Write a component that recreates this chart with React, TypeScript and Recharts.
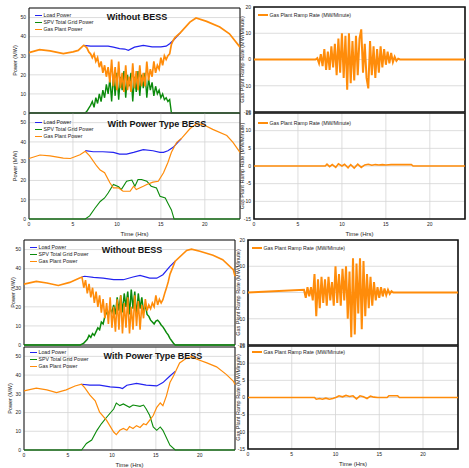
import { CartesianGrid, Legend, Line, LineChart, ReferenceArea, XAxis, YAxis } from "recharts";

const FONT = "'Liberation Sans', Arial, Helvetica, sans-serif";
const BLUE = "#2323f0";
const GREEN = "#0b8a0b";
const ORANGE = "#ff8c0a";

const hourTicks = [0, 5, 10, 15, 20];
const powerTicks = [0, 10, 20, 30, 40, 50];
const rampTicksWide = [-20, -10, 0, 10, 20];
const rampTicksNarrow = [-15, -10, -5, 0, 5, 10, 15];

// the part of the day where the PV output fluctuates (no BESS)
const noisyHours = [
  6.4, 6.6, 6.8, 7, 7.2, 7.4, 7.6, 7.8,
  8, 8.2, 8.4, 8.6, 8.8, 9, 9.2, 9.4, 9.6, 9.8,
  10, 10.2, 10.4, 10.6, 10.8, 11, 11.2, 11.4, 11.6, 11.8,
  12, 12.2, 12.4, 12.6, 12.8, 13, 13.2, 13.4, 13.6, 13.8,
  14, 14.2, 14.4, 14.6, 14.8, 15, 15.2, 15.4, 15.6, 15.8,
  16, 16.2, 16.4, 16.6,
];

// ---- row 1 : without BESS ----
const loadAHours = [6.2, 7, 8, 9, 9.6, 10.3, 10.9, 11.3, 12, 13, 14, 15, 15.6, 16, 16.4, 17.2];
const loadA = [35.4, 35, 35, 35, 34.5, 33.7, 33.5, 32.8, 34.5, 35.4, 34.6, 34.6, 35, 36.3, 38, 42];
const spvANoise = [
  0, 1, 2.5, 4, 6, 3, 8, 5,
  10, 6, 12, 8, 15, 10, 18, 6, 20, 9,
  21, 7, 19, 12, 22, 8, 20, 14, 21, 6,
  19, 11, 22, 9, 20, 13, 21, 8, 18, 12,
  16, 9, 14, 10, 12, 8, 10, 7, 8, 6,
  7, 0, 0, 0,
];
const gasAPreHours = [0, 1.2, 2.4, 3.9, 5, 5.6, 6.2];
const gasAPre = [31.6, 33.2, 32.5, 31.1, 32, 32.8, 35.4];
const gasANoise = [
  35, 34, 32, 31, 29, 31, 27, 29,
  24, 27, 21, 25, 19, 24, 16, 28, 14, 24,
  12, 27, 13, 21, 11, 25, 12, 19, 11, 26,
  13, 22, 12, 25, 14, 21, 14, 27, 17, 23,
  19, 27, 21, 25, 23, 29, 25, 30, 28, 30,
  31, 36, 38, 39.5,
];
const gasAPostHours = [17.2, 18.3, 19, 20.2, 21.7, 22.8, 24];
const gasAPost = [42, 47.6, 49.8, 48, 45, 41.5, 34.5];
const rampANoise = [
  0, 0, 0, 0, 0.5, -1.5, 2, -2.5,
  4, -4, 3, -4, 5, -3, 6, -6, 8, -5,
  10, -7, 9, -11.5, 10, -9, 7, -8, 9, -6,
  8, 11.5, -5, 6, -7, -11, 7, -6, 5, -7,
  4, -5, 5, -3, 4, -2, 3, -1.5, 2.5, -1,
  1, -0.5, 0.3, 0,
];

// ---- row 2 : with power type BESS ----
const loadBHours = [6.4, 7.3, 8.4, 9.6, 10.3, 11.1, 11.9, 13, 14.1, 14.9, 15.3, 15.8, 16.4, 17.3];
const loadB = [35.5, 34.9, 34.9, 34.6, 33.7, 33.7, 34.6, 36, 35.4, 34.6, 34.6, 35.4, 37.2, 41.6];
const spvBHours = [0, 6.4, 6.9, 7.5, 8.1, 8.6, 9, 9.6, 10.2, 10.5, 11.1, 11.7, 12.05, 12.4, 12.8, 13.4, 13.9, 14.5, 14.9, 15.5, 15.8, 16.2, 16.5, 24];
const spvB = [0, 0, 1.6, 5.6, 9.1, 10.9, 13.5, 17.9, 16.7, 15.3, 19.6, 20.2, 17, 20.5, 20.5, 19.6, 17, 16.1, 11.8, 10.9, 8.2, 4.7, 0, 0];
const gasBHours = [0, 1.25, 2.4, 3.9, 4.7, 5.8, 6.4, 6.9, 7.7, 8.1, 8.6, 9.2, 9.6, 10.2, 10.7, 11.5, 11.9, 12.2, 13, 13.4, 14.1, 14.7, 15.3, 15.8, 16.2, 16.8, 17.3, 18.3, 19.05, 19.8, 20.9, 22.5, 23.2, 24];
const gasB = [31.4, 33.2, 32.8, 31.6, 31.4, 33.3, 35.1, 32.8, 27.5, 25.4, 24, 18.8, 16.1, 16.1, 14.4, 14.4, 17, 15.3, 17, 17.9, 19.1, 19.6, 24, 29.3, 34.6, 39.8, 41.6, 46.8, 49.5, 49, 46.5, 43.3, 39.8, 34.6];
const rampBHours = [0, 8.1, 8.3, 8.6, 8.9, 9.3, 9.6, 10, 10.3, 10.7, 11, 11.4, 11.8, 12.2, 12.6, 13, 13.4, 13.8, 14.2, 14.6, 15, 15.6, 16.2, 16.6, 17.9, 18.1, 24];
const rampB = [0, 0, 0.5, -0.2, 0.4, -0.4, 0.6, 0, 0.5, -0.5, 0.4, -0.6, 0.5, -0.4, 0.3, 0.5, 0.2, 0.4, 0.3, 0.4, 0.3, 0.4, 0.4, 0.4, 0.4, 0, 0];

// ---- row 3 : without BESS ----
const loadCHours = [6.55, 6.9, 7.9, 9, 10.2, 11.3, 12.4, 13.2, 14.3, 15.1, 15.8, 16.6, 17.2];
const loadC = [35.6, 36, 35.4, 35, 34.2, 34.2, 35.6, 36.5, 35, 35, 36.8, 41.2, 43.9];
const spvCNoise = [
  0, 0.5, 1, 2, 3, 5, 4, 6,
  5, 7, 9, 8, 12, 11, 15, 17, 16, 19,
  17, 21, 16, 25, 18, 26, 17, 27, 20, 28,
  16, 29, 19, 28, 15, 27, 19, 25, 17, 21,
  16, 15, 13, 12, 11, 12.5, 13, 12, 10.5, 9.5,
  8, 6.5, 5.3, 3.5,
];
const gasCPreHours = [0, 1.4, 2.6, 3.9, 5.2, 6.2];
const gasCPre = [31.9, 33.3, 32.5, 31.2, 32.8, 34.8];
const gasCNoise = [
  35.2, 35.5, 30, 34, 27, 32, 25, 30,
  22, 28, 20, 26, 17, 24, 14, 22, 11, 25,
  9, 20, 7, 24, 8, 26, 6, 22, 9, 25,
  6, 20, 8, 26, 10, 23, 8, 21, 14, 24,
  18, 21, 19, 22, 20, 26, 21, 24, 22, 23.7,
  27, 29.8, 33, 37,
];
const gasCPostHours = [17.2, 18.5, 19.05, 20, 21.5, 22.6, 23.8, 24];
const gasCPost = [43.9, 49.5, 50.2, 49.1, 47, 44.7, 39.5, 36];
const rampCNoise = [
  1, -2, 2, -1.5, 2, -3, 7, -9,
  5, -6, 6, -4, 5, -5, 6, -3, 4, -5,
  10, -4, 7, -5, 9, -3, 10, -10, 8, -17,
  13, -16, 11, -8, 13, -14, 12, -9, 7, -6,
  6, -5, 4, -3, 2, -2, 2, -1.5, 1.5, -1,
  1, -0.5, 0.5, 0,
];

// ---- row 4 : with power type BESS ----
const loadDHours = [6.55, 7.5, 8.6, 9.8, 10.9, 11.2, 11.7, 12.8, 13.9, 15.1, 15.8, 16.6, 17.2];
const loadD = [35.1, 34.6, 34.6, 33.7, 33.3, 32.8, 34.6, 35.6, 34.6, 34.2, 36, 39.5, 42];
const spvDHours = [0, 6.55, 7.1, 7.7, 8.3, 8.8, 9.4, 10.2, 10.5, 10.9, 11.3, 12, 12.4, 13.2, 13.6, 13.9, 14.3, 14.7, 15.1, 15.5, 15.8, 16.6, 17.2, 24];
const spvD = [0, 0, 3.5, 5.3, 10.5, 14, 17.5, 21.9, 25.1, 23.7, 24.6, 22.8, 24, 23.3, 24, 21.9, 18.4, 12.3, 10.5, 12.3, 10.5, 2.6, 0, 0];
const gasDHours = [0, 1.4, 2.6, 3.7, 4.8, 5.8, 6.55, 6.9, 7.5, 8.1, 8.6, 9.4, 10.2, 10.5, 10.9, 11.3, 11.7, 12, 12.4, 12.8, 13.2, 13.6, 13.9, 14.3, 14.7, 15.1, 15.5, 15.8, 16.2, 16.6, 17, 17.7, 18.5, 19.05, 19.6, 20.8, 21.9, 23, 23.8, 24];
const gasD = [31.6, 33, 32.1, 30.7, 32.1, 34.2, 35.1, 33.3, 29.3, 26.3, 20.2, 15.8, 9.6, 8.2, 10.5, 11.5, 10.5, 12.5, 11.5, 13, 12, 14, 13.5, 16, 18.4, 22.8, 25.1, 23.7, 28.9, 36, 39.5, 46.5, 49.1, 50, 48.6, 46.5, 44.4, 40.4, 36.8, 35];
const rampDHours = [0, 7.6, 7.8, 8.2, 8.5, 8.9, 9.3, 9.7, 10.1, 10.4, 10.8, 11.2, 11.6, 12, 12.4, 12.8, 13.2, 13.6, 14, 14.4, 14.8, 15.9, 16.1, 17.1, 17.3, 24];
const rampD = [0, 0, -0.5, -0.3, -0.5, -0.2, -0.5, -0.3, 0.1, 0.5, 0.2, 0.6, 0.3, 0.5, -0.4, 0.5, 0.2, -0.3, 0.4, 0.1, 0, 0, 0.5, 0.5, 0, 0];

type Pt = { h: number; v: number };
const pts = (hours: number[], values: number[]): Pt[] => hours.map((h, i) => ({ h, v: values[i] }));

type SeriesDef = { name: string; color: string; width: number; data: Pt[] };

const loadName = "Load Power";
const spvName = "SPV Total Grid Power";
const gasName = "Gas Plant Power";
const rampName = "Gas Plant Ramp Rate (MW/Minute)";

type PanelProps = {
  left: number;
  top: number;
  plotW: number;
  plotH: number;
  axisW: number;
  domain: [number, number];
  ticks: number[];
  series: SeriesDef[];
  showTime?: boolean;
  yLabel: string;
  yLabelX: number;
  frame: number;
  legendX: number;
  legendY: number;
  legendLine: number;
  legendThick: number;
  title?: string;
  titleX?: number;
  titleY?: number;
};

function Panel(p: PanelProps) {
  const marginTop = 6;
  const xAxisH = p.showTime ? 20 : 2;
  const width = p.axisW + p.plotW + 3;
  const height = marginTop + p.plotH + xAxisH;
  const chartLeft = p.left - p.axisW;
  const chartTop = p.top - marginTop;
  const tickStyle = { fontSize: 5, fill: "#222", fontFamily: FONT };

  return (
    <div style={{ position: "absolute", left: chartLeft, top: chartTop, width, height }}>
      <LineChart width={width} height={height} margin={{ top: marginTop, right: 3, bottom: 0, left: 0 }}>
        <CartesianGrid stroke="#d4d4d4" strokeWidth={0.8} />
        <XAxis
          type="number"
          dataKey="h"
          domain={[0, 24]}
          ticks={hourTicks}
          height={xAxisH}
          axisLine={false}
          tickLine={false}
          tickSize={2}
          tickMargin={1}
          tick={p.showTime ? tickStyle : false}
          label={
            p.showTime
              ? { value: "Time (Hrs)", position: "insideBottom", offset: 3, fontSize: 6, fill: "#222", fontFamily: FONT }
              : undefined
          }
        />
        <YAxis
          type="number"
          domain={p.domain}
          ticks={p.ticks}
          width={p.axisW}
          axisLine={false}
          tickLine={false}
          tickSize={2}
          tickMargin={1}
          tick={tickStyle}
          interval={0}
          label={{
            value: p.yLabel,
            angle: -90,
            position: "insideLeft",
            offset: p.yLabelX - chartLeft,
            fontSize: 5.5,
            fill: "#222",
            fontFamily: FONT,
            style: { textAnchor: "middle" },
          }}
        />
        <ReferenceArea x1={0} x2={24} y1={p.domain[0]} y2={p.domain[1]} fill="none" stroke="#111" strokeWidth={p.frame} />
        {p.series.map((s) => (
          <Line
            key={s.name}
            data={s.data}
            dataKey="v"
            name={s.name}
            type="linear"
            stroke={s.color}
            strokeWidth={s.width}
            dot={false}
            isAnimationActive={false}
          />
        ))}
        <Legend
          verticalAlign="middle"
          wrapperStyle={{ left: p.legendX - chartLeft, top: p.legendY - chartTop - 3.5, width: "auto", height: "auto" }}
          content={() => (
            <div style={{ fontFamily: FONT, fontSize: 5.2, color: "#222" }}>
              {p.series.map((s) => (
                <div key={s.name} style={{ display: "flex", alignItems: "center", height: 7, whiteSpace: "nowrap" }}>
                  <span
                    style={{
                      display: "inline-block",
                      width: p.legendLine,
                      height: 0,
                      borderTop: `${p.legendThick}px solid ${s.color}`,
                      marginRight: 1.5,
                    }}
                  />
                  <span>{s.name}</span>
                </div>
              ))}
            </div>
          )}
        />
      </LineChart>
      {p.title && (
        <div
          style={{
            position: "absolute",
            left: (p.titleX ?? 0) - chartLeft,
            top: (p.titleY ?? 0) - chartTop,
            transform: "translate(-50%, -50%)",
            fontFamily: FONT,
            fontWeight: 700,
            fontSize: 9,
            color: "#151515",
            whiteSpace: "nowrap",
          }}
        >
          {p.title}
        </div>
      )}
    </div>
  );
}

export default function App() {
  const seriesA: SeriesDef[] = [
    { name: loadName, color: BLUE, width: 1.2, data: pts(loadAHours, loadA) },
    { name: spvName, color: GREEN, width: 1.4, data: pts([0, 6.2, ...noisyHours, 24], [0, 0, ...spvANoise, 0]) },
    {
      name: gasName,
      color: ORANGE,
      width: 1.7,
      data: pts([...gasAPreHours, ...noisyHours, ...gasAPostHours], [...gasAPre, ...gasANoise, ...gasAPost]),
    },
  ];
  const seriesB: SeriesDef[] = [
    { name: loadName, color: BLUE, width: 1.2, data: pts(loadBHours, loadB) },
    { name: spvName, color: GREEN, width: 1.1, data: pts(spvBHours, spvB) },
    { name: gasName, color: ORANGE, width: 1.2, data: pts(gasBHours, gasB) },
  ];
  const seriesC: SeriesDef[] = [
    { name: loadName, color: BLUE, width: 1.2, data: pts(loadCHours, loadC) },
    { name: spvName, color: GREEN, width: 1.5, data: pts([0, 6.2, ...noisyHours, 17, 17.2, 24], [0, 0, ...spvCNoise, 0.9, 0, 0]) },
    {
      name: gasName,
      color: ORANGE,
      width: 1.6,
      data: pts([...gasCPreHours, ...noisyHours, ...gasCPostHours], [...gasCPre, ...gasCNoise, ...gasCPost]),
    },
  ];
  const seriesD: SeriesDef[] = [
    { name: loadName, color: BLUE, width: 1.2, data: pts(loadDHours, loadD) },
    { name: spvName, color: GREEN, width: 1.1, data: pts(spvDHours, spvD) },
    { name: gasName, color: ORANGE, width: 1.2, data: pts(gasDHours, gasD) },
  ];
  const rampSeries = (data: Pt[], width: number): SeriesDef[] => [{ name: rampName, color: ORANGE, width, data }];

  return (
    <div style={{ position: "absolute", left: 0, top: 0, width: 469, height: 468, background: "#fff", overflow: "hidden" }}>
      <Panel left={29} top={8} plotW={211} plotH={105} axisW={29} domain={[0, 55]} ticks={powerTicks} series={seriesA}
        yLabel="Power (MW)" yLabelX={15} frame={1} legendX={35} legendY={15} legendLine={7} legendThick={1.2}
        title="Without BESS" titleX={137} titleY={17} />
      <Panel left={254} top={7} plotW={211} plotH={105} axisW={14} domain={[-20, 20]} ticks={rampTicksWide}
        series={rampSeries(pts([0, ...noisyHours, 17, 24], [0, ...rampANoise, 0, 0]), 2)}
        yLabel={rampName} yLabelX={242} frame={1.6} legendX={258} legendY={15} legendLine={10} legendThick={2} />

      <Panel left={29} top={113} plotW={211} plotH={106} axisW={29} domain={[0, 55]} ticks={powerTicks} series={seriesB}
        showTime yLabel="Power (MW)" yLabelX={15} frame={1} legendX={35} legendY={122} legendLine={7} legendThick={1.2}
        title="With Power Type BESS" titleX={157} titleY={124} />
      <Panel left={254} top={113} plotW={211} plotH={106} axisW={14} domain={[-15, 15]} ticks={rampTicksNarrow}
        series={rampSeries(pts(rampBHours, rampB), 1.6)} showTime
        yLabel={rampName} yLabelX={242} frame={1.6} legendX={258} legendY={123} legendLine={10} legendThick={2} />

      <Panel left={24} top={240} plotW={211} plotH={105} axisW={24} domain={[0, 55]} ticks={powerTicks} series={seriesC}
        yLabel="Power (MW)" yLabelX={13} frame={1} legendX={30} legendY={247} legendLine={7} legendThick={1.2}
        title="Without BESS" titleX={132} titleY={250} />
      <Panel left={248} top={240} plotW={210} plotH={105} axisW={14} domain={[-20, 20]} ticks={rampTicksWide}
        series={rampSeries(pts([0, ...noisyHours, 17, 24], [0, ...rampCNoise, 0, 0]), 2)}
        yLabel={rampName} yLabelX={238} frame={1.6} legendX={252} legendY={248} legendLine={10} legendThick={2} />

      <Panel left={24} top={347} plotW={211} plotH={103} axisW={24} domain={[0, 55]} ticks={powerTicks} series={seriesD}
        showTime yLabel="Power (MW)" yLabelX={10} frame={1} legendX={30} legendY={352} legendLine={7} legendThick={1.2}
        title="With Power Type BESS" titleX={153} titleY={356} />
      <Panel left={248} top={346} plotW={210} plotH={103} axisW={14} domain={[-15, 15]} ticks={rampTicksNarrow}
        series={rampSeries(pts(rampDHours, rampD), 1.6)} showTime
        yLabel={rampName} yLabelX={238} frame={1.6} legendX={252} legendY={352} legendLine={10} legendThick={2} />
    </div>
  );
}
